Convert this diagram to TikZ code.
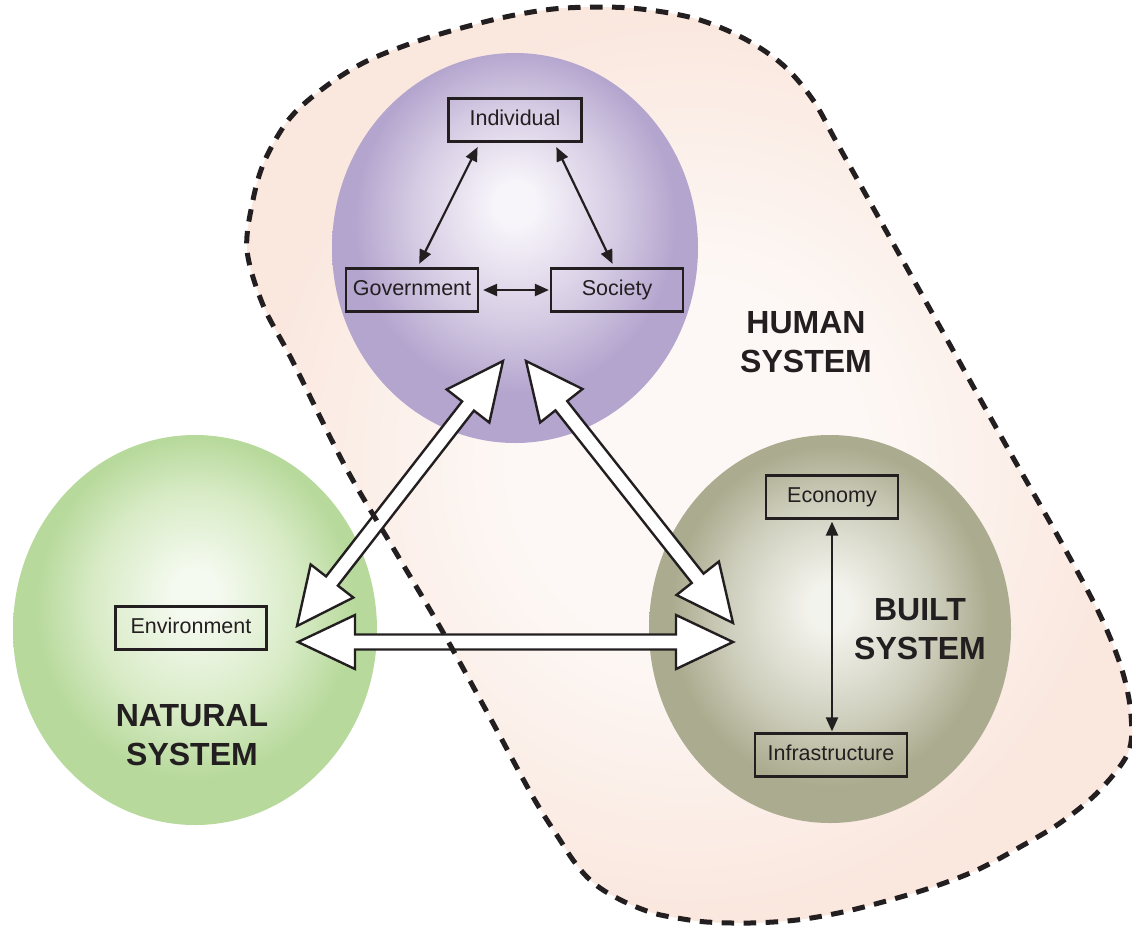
\documentclass[tikz,border=0pt]{standalone}
\usepackage{fontspec}
\setmainfont{Liberation Sans}
\usetikzlibrary{arrows.meta,calc}

\definecolor{ink}{HTML}{231F20}
\definecolor{pedge}{HTML}{B4A5CE}
\definecolor{pmid}{HTML}{D5CBE3}
\definecolor{pcen}{HTML}{F7F4FA}
\definecolor{gedge}{HTML}{B7D99B}
\definecolor{gmid}{HTML}{D8EBC6}
\definecolor{gcen}{HTML}{F5FAF0}
\definecolor{oedge}{HTML}{ABAB8F}
\definecolor{omid}{HTML}{CFCFBE}
\definecolor{ocen}{HTML}{F3F3ED}
\definecolor{hedge}{HTML}{FAE7DE}
\definecolor{hcen}{HTML}{FDF8F5}

\pgfdeclareradialshading{purpleball}{\pgfpoint{0bp}{6bp}}{color(0bp)=(pcen); color(3bp)=(pcen); color(14bp)=(pmid); color(22bp)=(pedge); color(25bp)=(pedge); color(50bp)=(pedge)}
\pgfdeclareradialshading{greenball}{\pgfpoint{0bp}{5bp}}{color(0bp)=(gcen); color(3bp)=(gcen); color(14bp)=(gmid); color(22bp)=(gedge); color(25bp)=(gedge); color(50bp)=(gedge)}
\pgfdeclareradialshading{oliveball}{\pgfpoint{0bp}{3bp}}{color(0bp)=(ocen); color(3bp)=(ocen); color(14bp)=(omid); color(22bp)=(oedge); color(25bp)=(oedge); color(50bp)=(oedge)}
\pgfdeclareradialshading{humanfill}{\pgfpoint{0bp}{0bp}}{color(0bp)=(hcen); color(10bp)=(hcen); color(25bp)=(hedge); color(50bp)=(hedge)}

\tikzset{
  box/.style={draw=ink, line width=2.2pt, minimum height=43pt, inner sep=0pt,
    text=ink, text height=15.5pt, text depth=4.5pt,
    font=\fontsize{21.5}{26}\selectfont},
  syslabel/.style={align=center, text=ink, inner sep=0pt,
    font=\bfseries\fontsize{32}{39}\selectfont},
  link/.style={draw=ink, line width=2.2pt,
    {Triangle[length=14pt,width=12pt]}-{Triangle[length=14pt,width=12pt]}},
  bigarrow/.style={draw=ink, line width=2.4pt, fill=white, line join=miter, miter limit=10},
  boundary/.style={draw=ink, line width=5pt, dash pattern=on 12.5pt off 9.5pt},
}

\def\hl{57pt}
\def\hw{27pt}
\def\sw{7.5pt}
\newcommand\blockarrow[2]{%
  \path ($(#1)!\hl!(#2)$) coordinate (ba1) ($(#2)!\hl!(#1)$) coordinate (ba2);
  \draw[bigarrow] (#1)
    -- ($(ba1)!\hw!-90:(#2)$) -- ($(ba1)!\sw!-90:(#2)$)
    -- ($(ba2)!\sw!90:(#1)$) -- ($(ba2)!\hw!90:(#1)$)
    -- (#2)
    -- ($(ba2)!\hw!-90:(#1)$) -- ($(ba2)!\sw!-90:(#1)$)
    -- ($(ba1)!\sw!90:(#2)$) -- ($(ba1)!\hw!90:(#2)$)
    -- cycle;}

\begin{document}
\begin{tikzpicture}[x=1pt,y=-1pt]
\useasboundingbox (0,0) rectangle (1132,927);

% human system region
\def\humanpath{plot[smooth cycle, tension=0.55] coordinates {
  (247,250) (253,200) (265,160) (290,118) (325,87) (365,62) (415,42) (465,27)
  (515,15) (565,8) (630,8) (693,18) (743,38) (783,65) (813,100) (837,143)
  (880,220) (940,327) (1007,447) (1060,540) (1100,615) (1122,670) (1131,715)
  (1128,753) (1098,792) (1060,823) (1020,847) (977,870) (933,887) (890,900)
  (843,912) (797,920) (750,923) (707,922) (677,918) (653,913) (627,903)
  (603,890) (587,877) (573,860) (560,840) (533,797) (487,712) (440,627)
  (392,546) (345,466) (292,360) (263,305)}}
\path[shading=humanfill] \humanpath;

% spheres
\path[shading=purpleball] (515,248) ellipse [x radius=183pt, y radius=195pt];
\path[shading=greenball] (195,630) ellipse [x radius=182pt, y radius=195pt];
\path[shading=oliveball] (830,629) ellipse [x radius=181pt, y radius=194pt];

% big arrows between systems
\coordinate (hL) at (503,361);
\coordinate (nT) at (297,626);
\coordinate (hR) at (526,361);
\coordinate (bT) at (733,623);
\coordinate (nH) at (298,642);
\coordinate (bH) at (733,642);
\blockarrow{nT}{hL}
\blockarrow{hR}{bT}
\blockarrow{nH}{bH}

% dashed boundary of the human system
\draw[boundary] \humanpath;

% boxes
\node[box, minimum width=133pt] (ind) at (515,120) {Individual};
\node[box, minimum width=132pt] (gov) at (412,290) {Government};
\node[box, minimum width=132pt] (soc) at (617,290) {Society};
\node[box, minimum width=132pt] (eco) at (832,497) {Economy};
\node[box, minimum width=152pt] (inf) at (831,755) {Infrastructure};
\node[box, minimum width=151pt] (env) at (191,628) {Environment};

% small arrows
\draw[link, shorten <=5pt, shorten >=4pt]
  ($(ind.south west)!0.24!(ind.south east)$) -- ($(gov.north west)!0.54!(gov.north east)$);
\draw[link, shorten <=5pt, shorten >=4pt]
  ($(ind.south west)!0.79!(ind.south east)$) -- ($(soc.north west)!0.48!(soc.north east)$);
\draw[link, shorten <=4pt, shorten >=1pt] (gov.east) -- (soc.west);
\draw[link, shorten <=2pt, shorten >=1pt] (eco.south) -- (eco.south |- inf.north);

% system labels
\node[syslabel] (human) at (806,342) {HUMAN\\SYSTEM};
\node[syslabel] (built) at (920,629) {BUILT\\SYSTEM};
\node[syslabel] (natural) at (192,735) {NATURAL\\SYSTEM};
\end{tikzpicture}
\end{document}
